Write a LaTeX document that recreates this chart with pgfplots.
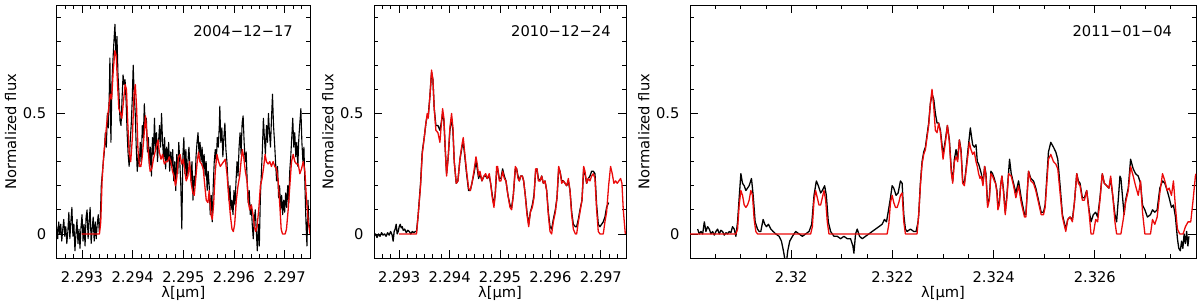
\documentclass[border=0pt]{standalone}
\usepackage{fontspec}
\setmainfont{DejaVu Sans}
\usepackage{pgfplots}
\pgfplotsset{compat=1.18}
\definecolor{mred}{RGB}{235,10,10}
\newcommand{\lf}{\fontsize{14.7}{17}\selectfont}
\pgfplotsset{
  spec/.style={
    scale only axis, height=253pt,
    ymin=-0.1, ymax=0.95,
    ytick={0,0.5}, yticklabels={0,0.5},
    minor ytick={0.1,0.2,0.3,0.4,0.6,0.7,0.8,0.9},
    tick align=inside, major tick length=8pt, minor tick length=4pt,
    every tick/.style={black, line width=0.7pt},
    axis line style={line width=0.8pt},
    tick label style={font=\lf},
    xticklabel style={anchor=base, yshift=-24pt},
    yticklabel style={anchor=east, xshift=-7pt},
    ylabel={Normalized flux},
    every axis y label/.style={at={(axis description cs:0,0.5)}, xshift=-46pt, rotate=90, anchor=center, font=\lf},
    xlabel={λ[μm]},
    every axis x label/.style={at={(axis description cs:0.5,0)}, anchor=base, yshift=-39pt, font=\lf},
    clip=true,
  },
  sixth/.style={minor xtick={2.292667,2.292833,2.293167,2.293333,2.293500,2.293667,2.293833,2.294167,2.294333,2.294500,2.294667,2.294833,2.295167,2.295333,2.295500,2.295667,2.295833,2.296167,2.296333,2.296500,2.296667,2.296833,2.297167,2.297333}},
  obs/.style={black, line width=1.3pt, line join=round},
  mod/.style={mred, line width=1.3pt, line join=round},
}
\begin{document}
\begin{tikzpicture}
\useasboundingbox (0,0) rectangle (1200pt,303pt);
% ---------------- Panel 1 ----------------
\begin{axis}[spec, sixth, at={(56.7pt,45pt)}, anchor=south west, width=253.3pt,
  xmin=2.2925, xmax=2.2975,
  xtick={2.293,2.294,2.295,2.296,2.297}, xticklabels={2.293,2.294,2.295,2.296,2.297}]
\addplot[obs, line width=1.1pt] coordinates {
(2.29250,0.03)(2.29252,-0.02)(2.29254,0.05)(2.29256,0.00)(2.29258,0.04)(2.29260,-0.03)(2.29262,0.02)(2.29264,0.06)(2.29266,-0.01)(2.29268,0.03)
(2.29270,-0.04)(2.29272,0.01)(2.29274,0.09)(2.29276,-0.02)(2.29278,0.05)(2.29280,0.11)(2.29282,-0.01)(2.29284,0.04)(2.29286,-0.07)(2.29288,0.00)
(2.29290,0.06)(2.29292,-0.04)(2.29294,0.02)(2.29296,-0.06)(2.29298,0.03)(2.29300,0.08)(2.29302,-0.03)(2.29304,0.04)(2.29306,-0.05)(2.29308,0.07)
(2.29310,0.10)(2.29312,-0.02)(2.29314,0.05)(2.29316,0.11)(2.29318,-0.04)(2.29320,0.02)(2.29322,0.07)(2.29324,-0.03)(2.29326,0.05)(2.29328,-0.02)
(2.29330,0.04)(2.29332,0.08)(2.29334,0.01)(2.29336,0.06)(2.29338,0.20)(2.29340,0.25)(2.29342,0.30)(2.29344,0.34)(2.29346,0.42)(2.29348,0.36)
(2.29350,0.50)(2.29352,0.44)(2.29354,0.60)(2.29355,0.73)(2.29357,0.38)(2.29359,0.62)(2.29361,0.72)(2.29363,0.80)(2.29365,0.87)(2.29367,0.74)
(2.29369,0.82)(2.29371,0.66)(2.29373,0.58)(2.29375,0.47)(2.29377,0.45)(2.29379,0.56)(2.29381,0.66)(2.29383,0.62)(2.29385,0.64)(2.29387,0.55)
(2.29389,0.42)(2.29391,0.33)(2.29393,0.28)(2.29395,0.38)(2.29397,0.45)(2.29399,0.55)(2.29401,0.70)(2.29403,0.58)(2.29405,0.50)(2.29407,0.36)
(2.29409,0.26)(2.29411,0.33)(2.29413,0.28)(2.29415,0.38)(2.29417,0.30)(2.29419,0.45)(2.29421,0.40)(2.29423,0.54)(2.29425,0.44)(2.29427,0.48)
(2.29429,0.34)(2.29431,0.40)(2.29433,0.28)(2.29435,0.36)(2.29437,0.24)(2.29439,0.40)(2.29441,0.33)(2.29443,0.48)(2.29445,0.35)(2.29447,0.42)
(2.29449,0.30)(2.29451,0.38)(2.29453,0.45)(2.29455,0.36)(2.29457,0.50)(2.29459,0.38)(2.29461,0.31)(2.29463,0.40)(2.29465,0.27)(2.29467,0.36)
(2.29469,0.30)(2.29471,0.38)(2.29473,0.26)(2.29475,0.34)(2.29477,0.28)(2.29479,0.35)(2.29481,0.22)(2.29483,0.30)(2.29485,0.18)(2.29487,0.33)
(2.29489,0.25)(2.29491,0.38)(2.29493,0.30)(2.29495,0.20)(2.29497,0.02)(2.29499,0.32)(2.29501,0.40)(2.29503,0.25)(2.29505,0.35)(2.29507,0.23)
(2.29509,0.30)(2.29511,0.36)(2.29513,0.28)(2.29515,0.22)(2.29517,0.30)(2.29519,0.14)(2.29521,0.24)(2.29523,0.20)(2.29525,0.32)(2.29527,0.38)
(2.29529,0.42)(2.29531,0.33)(2.29533,0.38)(2.29535,0.30)(2.29537,0.36)(2.29539,0.27)(2.29541,0.33)(2.29543,0.24)(2.29545,0.30)(2.29547,0.18)
(2.29549,0.26)(2.29551,0.20)(2.29553,0.08)(2.29555,0.16)(2.29557,0.05)(2.29559,0.20)(2.29561,0.30)(2.29563,0.35)(2.29565,0.30)(2.29567,0.40)
(2.29569,0.36)(2.29571,0.45)(2.29572,0.53)(2.29574,0.38)(2.29576,0.44)(2.29578,0.32)(2.29580,0.40)(2.29582,0.46)(2.29584,0.35)(2.29586,0.30)
(2.29588,0.22)(2.29590,0.14)(2.29592,0.20)(2.29594,0.10)(2.29596,0.14)(2.29598,0.08)(2.29600,0.18)(2.29602,0.12)(2.29604,0.22)(2.29606,0.30)
(2.29608,0.24)(2.29610,0.36)(2.29612,0.42)(2.29614,0.33)(2.29616,0.46)(2.29618,0.49)(2.29620,0.38)(2.29622,0.30)(2.29624,0.34)(2.29626,0.22)
(2.29628,0.13)(2.29630,0.18)(2.29632,0.08)(2.29634,0.12)(2.29636,0.04)(2.29638,-0.02)(2.29640,0.06)(2.29642,0.10)(2.29644,0.01)(2.29646,-0.07)
(2.29648,0.04)(2.29650,-0.05)(2.29652,0.15)(2.29654,0.25)(2.29656,0.35)(2.29658,0.48)(2.29660,0.40)(2.29662,0.33)(2.29664,0.45)(2.29666,0.38)
(2.29668,0.50)(2.29670,0.42)(2.29672,0.36)(2.29674,0.48)(2.29676,0.58)(2.29678,0.45)(2.29680,0.38)(2.29682,0.30)(2.29684,0.22)(2.29686,0.28)
(2.29688,0.15)(2.29690,0.20)(2.29692,0.10)(2.29694,0.16)(2.29696,0.08)(2.29698,0.14)(2.29700,0.09)(2.29702,0.17)(2.29704,0.11)(2.29706,0.20)
(2.29708,0.13)(2.29710,0.26)(2.29712,0.32)(2.29714,0.40)(2.29716,0.48)(2.29718,0.36)(2.29720,0.42)(2.29722,0.32)(2.29724,0.38)(2.29726,0.28)
(2.29728,0.40)(2.29730,0.46)(2.29732,0.52)(2.29734,0.38)(2.29736,0.30)(2.29738,0.36)(2.29740,0.20)(2.29742,0.05)(2.29744,-0.05)(2.29746,0.14)
(2.29748,0.04)(2.29750,0.02)
};
\addplot[mod] coordinates {
(2.29299,0)(2.293344,0)(2.293370,0.05)(2.293396,0.22)(2.293429,0.33)(2.293461,0.40)(2.293494,0.47)(2.293526,0.52)(2.293558,0.58)(2.293584,0.56)
(2.293617,0.68)(2.293649,0.76)(2.293675,0.74)(2.293701,0.62)(2.293727,0.52)(2.293760,0.50)(2.293786,0.48)(2.293818,0.55)(2.293851,0.62)(2.293877,0.60)
(2.293903,0.46)(2.293929,0.34)(2.293961,0.30)(2.293994,0.40)(2.294026,0.58)(2.294052,0.62)(2.294078,0.52)(2.294104,0.35)(2.294136,0.28)(2.294162,0.28)
(2.294188,0.32)(2.294221,0.40)(2.294253,0.49)(2.294279,0.42)(2.294312,0.33)(2.294344,0.26)(2.294377,0.27)(2.294409,0.31)(2.294442,0.34)(2.294474,0.37)
(2.294500,0.39)(2.294526,0.34)(2.294559,0.31)(2.294591,0.33)(2.294624,0.29)(2.294656,0.30)(2.294688,0.30)(2.294721,0.32)(2.294753,0.30)(2.294786,0.26)
(2.294818,0.24)(2.294844,0.20)(2.294870,0.23)(2.294903,0.32)(2.294935,0.33)(2.294968,0.29)(2.295000,0.31)(2.295023,0.27)(2.295056,0.22)(2.295089,0.24)
(2.295122,0.30)(2.295155,0.21)(2.295188,0.17)(2.295215,0.16)(2.295241,0.22)(2.295274,0.30)(2.295300,0.34)(2.295327,0.30)(2.295360,0.29)(2.295393,0.27)
(2.295419,0.21)(2.295452,0.14)(2.295485,0.13)(2.295512,0.18)(2.295545,0.08)(2.295571,0.06)(2.295597,0.12)(2.295630,0.26)(2.295663,0.33)(2.295696,0.30)
(2.295729,0.28)(2.295762,0.29)(2.295795,0.30)(2.295828,0.31)(2.295861,0.25)(2.295894,0.16)(2.295927,0.08)(2.295960,0.02)(2.295987,0.01)(2.296013,0.04)
(2.296046,0.14)(2.296079,0.20)(2.296112,0.24)(2.296139,0.30)(2.296165,0.35)(2.296191,0.32)(2.296224,0.26)(2.296257,0.22)(2.296284,0.13)(2.296310,0.10)
(2.296343,0.12)(2.296376,0.08)(2.296403,0.03)(2.296429,0.01)(2.296455,0.03)(2.296488,0.10)(2.296521,0.20)(2.296554,0.23)(2.296587,0.28)(2.296614,0.33)
(2.296640,0.30)(2.296673,0.29)(2.296706,0.30)(2.296739,0.28)(2.296772,0.30)(2.296805,0.28)(2.296838,0.27)(2.296871,0.22)(2.296904,0.12)(2.296931,0.02)
(2.296957,0.00)(2.297010,0.00)(2.297036,0.02)(2.297069,0.10)(2.297102,0.20)(2.297135,0.30)(2.297168,0.33)(2.297201,0.30)(2.297234,0.29)(2.297267,0.29)
(2.297300,0.25)(2.297333,0.27)(2.297366,0.30)(2.297399,0.26)(2.297432,0.14)(2.297465,0.05)(2.297500,0.00)
};
\node[anchor=north east, inner sep=0pt, font=\lf] at (axis description cs:0.933,0.921) {2004−12−17};
\end{axis}
% ---------------- Panel 2 ----------------
\begin{axis}[spec, sixth, at={(374pt,45pt)}, anchor=south west, width=252pt,
  xmin=2.2925, xmax=2.2975,
  xtick={2.293,2.294,2.295,2.296,2.297}, xticklabels={2.293,2.294,2.295,2.296,2.297}]
\addplot[obs] coordinates {
(2.29250,-0.01)(2.29253,0.0)(2.29256,-0.015)(2.29259,0.0)(2.29262,-0.01)(2.29265,0.005)(2.29268,-0.005)(2.29271,0.0)(2.29274,-0.01)(2.29277,0.005)
(2.29280,-0.005)(2.29283,0.01)(2.29286,-0.005)(2.29288,-0.03)(2.29290,0.01)(2.29292,0.02)(2.29294,0.04)(2.29296,0.0)(2.29298,0.01)(2.29300,0.03)
(2.29302,0.04)(2.29304,0.025)(2.29306,0.03)(2.29308,0.015)(2.29311,0.02)(2.29314,0.005)(2.29317,0.015)(2.29320,0.01)(2.29323,0.0)(2.29326,0.01)
(2.29329,0.005)(2.29332,0.01)(2.293344,0.01)(2.293377,0.08)(2.293424,0.21)(2.293457,0.34)(2.293497,0.40)(2.293530,0.46)(2.293556,0.49)(2.293576,0.49)
(2.293609,0.57)(2.293642,0.67)(2.293669,0.64)(2.293695,0.52)(2.293728,0.45)(2.293768,0.45)(2.293808,0.43)(2.293834,0.46)(2.293861,0.50)(2.293887,0.47)
(2.293914,0.35)(2.293940,0.25)(2.293973,0.32)(2.294006,0.43)(2.294039,0.48)(2.294066,0.43)(2.294092,0.30)(2.294132,0.21)(2.294165,0.22)(2.294205,0.31)
(2.294245,0.36)(2.294271,0.38)(2.294298,0.33)(2.294337,0.25)(2.294377,0.18)(2.294410,0.18)(2.294443,0.21)(2.294483,0.25)(2.294523,0.30)(2.294549,0.27)
(2.294576,0.23)(2.294602,0.25)(2.294642,0.22)(2.294681,0.24)(2.294715,0.24)(2.294748,0.23)(2.294787,0.24)(2.294814,0.21)(2.294847,0.16)(2.294880,0.12)
(2.294907,0.17)(2.294933,0.26)(2.294953,0.27)(2.294986,0.23)(2.295019,0.23)(2.295052,0.27)(2.295085,0.24)(2.295118,0.22)(2.295158,0.16)(2.295198,0.12)
(2.295231,0.11)(2.295264,0.16)(2.295304,0.27)(2.295330,0.27)(2.295357,0.24)(2.295383,0.22)(2.295410,0.24)(2.295443,0.24)(2.295469,0.22)(2.295502,0.16)
(2.295535,0.09)(2.295569,0.04)(2.295602,0.09)(2.295641,0.12)(2.295674,0.16)(2.295707,0.26)(2.295734,0.27)(2.295761,0.23)(2.295794,0.22)(2.295827,0.24)
(2.295860,0.21)(2.295893,0.22)(2.295926,0.18)(2.295959,0.09)(2.295992,0.03)(2.296025,0.02)(2.296058,0.06)(2.296098,0.10)(2.296131,0.15)(2.296164,0.27)
(2.296191,0.26)(2.296224,0.22)(2.296257,0.22)(2.296290,0.21)(2.296323,0.20)(2.296356,0.22)(2.296389,0.18)(2.296422,0.09)(2.296455,0.04)(2.296495,0.03)
(2.296521,0.03)(2.296554,0.06)(2.296587,0.10)(2.296627,0.14)(2.296660,0.27)(2.296686,0.25)(2.296719,0.21)(2.296752,0.23)(2.296785,0.24)(2.296818,0.26)
(2.296851,0.26)(2.296884,0.25)(2.296917,0.12)(2.296950,0.04)(2.296983,0.03)(2.297049,0.05)(2.297082,0.07)(2.297115,0.11)(2.297155,0.13)
};
\addplot[mod] coordinates {
(2.29300,0)(2.293331,0)(2.293344,0)(2.293377,0.08)(2.293424,0.20)(2.293457,0.33)(2.293497,0.40)(2.293530,0.46)(2.293556,0.50)(2.293576,0.48)
(2.293609,0.57)(2.293642,0.68)(2.293669,0.64)(2.293695,0.52)(2.293728,0.43)(2.293768,0.42)(2.293808,0.38)(2.293834,0.45)(2.293861,0.52)(2.293887,0.48)
(2.293914,0.35)(2.293940,0.24)(2.293973,0.32)(2.294006,0.44)(2.294039,0.50)(2.294066,0.44)(2.294092,0.30)(2.294132,0.21)(2.294165,0.22)(2.294205,0.31)
(2.294245,0.37)(2.294271,0.40)(2.294298,0.34)(2.294337,0.26)(2.294377,0.19)(2.294410,0.18)(2.294443,0.21)(2.294483,0.26)(2.294523,0.32)(2.294549,0.29)
(2.294576,0.24)(2.294602,0.26)(2.294642,0.22)(2.294681,0.24)(2.294715,0.25)(2.294748,0.23)(2.294787,0.25)(2.294814,0.21)(2.294847,0.15)(2.294880,0.11)
(2.294907,0.17)(2.294933,0.28)(2.294953,0.28)(2.294986,0.22)(2.295019,0.22)(2.295052,0.26)(2.295085,0.23)(2.295118,0.22)(2.295158,0.16)(2.295198,0.11)
(2.295231,0.10)(2.295264,0.16)(2.295304,0.28)(2.295330,0.27)(2.295357,0.23)(2.295383,0.22)(2.295410,0.24)(2.295443,0.24)(2.295469,0.22)(2.295502,0.16)
(2.295535,0.08)(2.295569,0.03)(2.295602,0.09)(2.295641,0.11)(2.295674,0.15)(2.295707,0.27)(2.295734,0.27)(2.295761,0.22)(2.295794,0.22)(2.295827,0.24)
(2.295860,0.21)(2.295893,0.22)(2.295926,0.18)(2.295959,0.08)(2.295992,0.01)(2.296025,0.00)(2.296058,0.05)(2.296098,0.09)(2.296131,0.15)(2.296164,0.28)
(2.296191,0.26)(2.296224,0.21)(2.296257,0.22)(2.296290,0.21)(2.296323,0.20)(2.296356,0.23)(2.296389,0.18)(2.296422,0.08)(2.296455,0.02)(2.296495,0.00)
(2.296521,0.00)(2.296554,0.05)(2.296587,0.09)(2.296627,0.14)(2.296660,0.28)(2.296686,0.26)(2.296719,0.21)(2.296752,0.23)(2.296785,0.22)(2.296818,0.24)
(2.296851,0.25)(2.296884,0.23)(2.296917,0.10)(2.296950,0.01)(2.296983,0.00)(2.297049,0.00)(2.297082,0.05)(2.297115,0.09)(2.297155,0.20)(2.297194,0.28)
(2.297227,0.25)(2.297260,0.21)(2.297293,0.22)(2.297326,0.21)(2.297359,0.22)(2.297393,0.23)(2.297419,0.21)(2.297446,0.10)(2.297486,0.00)
};
\node[anchor=north east, inner sep=0pt, font=\lf] at (axis description cs:0.94,0.921) {2010−12−24};
\end{axis}
% ---------------- Panel 3 ----------------
\begin{axis}[spec, at={(690pt,45pt)}, anchor=south west, width=506pt,
  xmin=2.318, xmax=2.328,
  xtick={2.32,2.322,2.324,2.326}, xticklabels={2.32,2.322,2.324,2.326},
  minor xtick={2.3185,2.319,2.3195,2.3205,2.321,2.3215,2.3225,2.323,2.3235,2.3245,2.325,2.3255,2.3265,2.327,2.3275}]
\addplot[obs] coordinates {
(2.318151,0.02)(2.318184,0.0)(2.318217,0.01)(2.318250,0.0)(2.318283,0.05)(2.318315,0.01)(2.318348,0.03)(2.318381,0.02)(2.318414,0.0)(2.318447,0.01)
(2.318480,-0.005)(2.318512,0.01)(2.318545,0.02)(2.318578,0.0)(2.318611,0.015)(2.318644,0.01)(2.318677,-0.005)(2.318710,0.005)(2.318742,0.0)(2.318775,0.01)
(2.318808,0.005)(2.318841,0.03)(2.318874,0.02)(2.318907,-0.01)(2.318940,0.05)(2.318972,0.15)(2.319005,0.25)(2.319038,0.21)(2.319071,0.20)(2.319104,0.18)
(2.319137,0.19)(2.319169,0.20)(2.319215,0.23)(2.319248,0.16)(2.319288,0.05)(2.319334,0.02)(2.319367,0.01)(2.319399,0.01)(2.319445,0.06)(2.319478,0.04)
(2.319511,0.03)(2.319551,0.04)(2.319597,0.02)(2.319643,0.01)(2.319695,0.0)(2.319761,-0.01)(2.319807,-0.03)(2.319846,-0.07)(2.319879,-0.11)(2.319905,-0.12)
(2.319932,-0.07)(2.319971,-0.03)(2.320024,-0.01)(2.320089,0.01)(2.320155,0.0)(2.320221,-0.01)(2.320286,0.0)(2.320352,0.01)(2.320405,0.04)(2.320451,0.16)
(2.320497,0.22)(2.320536,0.20)(2.320582,0.17)(2.320615,0.18)(2.320661,0.20)(2.320694,0.16)(2.320733,0.05)(2.320779,0.01)(2.320845,-0.01)(2.320911,-0.01)
(2.320976,-0.02)(2.321042,-0.01)(2.321108,-0.02)(2.321173,-0.02)(2.321219,-0.05)(2.321239,-0.08)(2.321272,0.0)(2.321305,0.02)(2.321351,-0.01)(2.321403,-0.02)
(2.321469,-0.01)(2.321535,0.0)(2.321600,0.01)(2.321666,0.02)(2.321732,0.03)(2.321797,0.04)(2.321843,0.06)(2.321883,0.05)(2.321916,0.09)(2.321962,0.15)
(2.321995,0.20)(2.322027,0.19)(2.322073,0.16)(2.322113,0.17)(2.322159,0.22)(2.322192,0.21)(2.322225,0.08)(2.322257,0.02)(2.322290,0.01)(2.322356,0.02)
(2.322422,0.01)(2.322468,0.01)(2.322507,0.05)(2.322520,0.08)(2.322553,0.21)(2.322586,0.30)(2.322619,0.34)(2.322652,0.36)(2.322684,0.41)(2.322717,0.46)
(2.322750,0.54)(2.322783,0.58)(2.322816,0.56)(2.322849,0.50)(2.322882,0.46)(2.322914,0.46)(2.322949,0.43)(2.323001,0.33)(2.323047,0.39)(2.323087,0.45)
(2.323126,0.39)(2.323166,0.26)(2.323192,0.22)(2.323225,0.31)(2.323258,0.35)(2.323290,0.31)(2.323323,0.39)(2.323356,0.35)(2.323389,0.22)(2.323422,0.21)
(2.323455,0.27)(2.323494,0.35)(2.323540,0.44)(2.323586,0.37)(2.323619,0.36)(2.323652,0.37)(2.323678,0.30)(2.323704,0.29)(2.323731,0.27)(2.323757,0.25)
(2.323790,0.21)(2.323823,0.28)(2.323849,0.25)(2.323882,0.12)(2.323915,0.15)(2.323947,0.26)(2.323980,0.25)(2.324013,0.23)(2.324039,0.21)(2.324066,0.18)
(2.324085,0.11)(2.324112,0.13)(2.324138,0.20)(2.324164,0.24)(2.324197,0.18)(2.324230,0.09)(2.324263,0.16)(2.324315,0.31)(2.324348,0.25)(2.324394,0.21)
(2.324440,0.17)(2.324493,0.22)(2.324545,0.15)(2.324611,0.08)(2.324637,0.08)(2.324690,0.26)(2.324736,0.23)(2.324788,0.22)(2.324834,0.19)(2.324887,0.14)
(2.324940,0.09)(2.324986,0.09)(2.325018,0.12)(2.325084,0.34)(2.325130,0.38)(2.325183,0.36)(2.325229,0.34)(2.325268,0.31)(2.325314,0.20)(2.325360,0.08)
(2.325426,0.02)(2.325465,0.06)(2.325511,0.07)(2.325557,0.06)(2.325597,0.13)(2.325643,0.25)(2.325675,0.22)(2.325708,0.21)(2.325754,0.15)(2.325794,0.15)
(2.325840,0.18)(2.325886,0.10)(2.325925,0.05)(2.325971,0.08)(2.326017,0.09)(2.326056,0.07)(2.326102,0.15)(2.326148,0.25)(2.326188,0.21)(2.326234,0.20)
(2.326280,0.19)(2.326313,0.23)(2.326359,0.15)(2.326398,0.08)(2.326431,0.05)(2.326470,0.16)(2.326497,0.24)(2.326516,0.23)(2.326562,0.12)(2.326580,0.08)
(2.326608,0.14)(2.326661,0.19)(2.326707,0.31)(2.326759,0.27)(2.326805,0.25)(2.326858,0.24)(2.326904,0.21)(2.326943,0.12)(2.326989,0.10)(2.327040,0.07)
(2.327101,0.08)(2.327140,0.10)(2.327186,0.09)(2.327232,0.10)(2.327285,0.19)(2.327338,0.22)(2.327384,0.21)(2.327430,0.18)(2.327469,0.15)(2.327515,0.11)
(2.327554,0.12)(2.327594,0.07)(2.327633,-0.02)(2.327660,-0.06)(2.327690,-0.07)(2.327715,-0.03)(2.327740,-0.06)(2.327765,0.0)(2.327790,-0.04)(2.327815,0.01)
(2.327840,-0.05)(2.327860,-0.01)
};
\addplot[mod] coordinates {
(2.318,0)(2.318907,0)(2.318940,0.02)(2.318972,0.12)(2.319005,0.18)(2.319038,0.16)(2.319071,0.12)(2.319104,0.11)(2.319137,0.12)(2.319169,0.14)
(2.319202,0.18)(2.319235,0.16)(2.319268,0.06)(2.319301,0.01)(2.319334,0)(2.320385,0)(2.320418,0.03)(2.320451,0.14)(2.320483,0.18)(2.320516,0.15)
(2.320549,0.12)(2.320582,0.12)(2.320615,0.15)(2.320648,0.18)(2.320681,0.14)(2.320713,0.05)(2.320746,0)(2.321896,0)(2.321929,0.04)(2.321962,0.13)
(2.321995,0.16)(2.322027,0.13)(2.322060,0.11)(2.322093,0.11)(2.322126,0.13)(2.322159,0.16)(2.322192,0.17)(2.322225,0.05)(2.322257,0)(2.322487,0)
(2.322520,0.08)(2.322553,0.20)(2.322586,0.29)(2.322619,0.33)(2.322652,0.35)(2.322684,0.40)(2.322717,0.45)(2.322750,0.54)(2.322783,0.60)(2.322816,0.53)
(2.322849,0.43)(2.322882,0.42)(2.322914,0.46)(2.322949,0.42)(2.323001,0.31)(2.323047,0.38)(2.323087,0.45)(2.323126,0.38)(2.323166,0.25)(2.323192,0.21)
(2.323225,0.30)(2.323258,0.32)(2.323290,0.30)(2.323323,0.39)(2.323356,0.34)(2.323389,0.21)(2.323422,0.20)(2.323455,0.26)(2.323494,0.33)(2.323520,0.38)
(2.323553,0.35)(2.323586,0.33)(2.323619,0.34)(2.323652,0.30)(2.323678,0.28)(2.323704,0.25)(2.323731,0.23)(2.323757,0.24)(2.323790,0.20)(2.323823,0.28)
(2.323849,0.24)(2.323882,0.11)(2.323915,0.14)(2.323947,0.25)(2.323980,0.24)(2.324013,0.22)(2.324039,0.21)(2.324066,0.17)(2.324085,0.10)(2.324112,0.12)
(2.324138,0.20)(2.324164,0.24)(2.324197,0.17)(2.324230,0.08)(2.324263,0.15)(2.324296,0.25)(2.324348,0.24)(2.324394,0.20)(2.324440,0.15)(2.324493,0.20)
(2.324545,0.13)(2.324611,0.07)(2.324637,0.07)(2.324690,0.26)(2.324736,0.22)(2.324788,0.21)(2.324834,0.18)(2.324887,0.13)(2.324940,0.08)(2.324986,0.08)
(2.325018,0.11)(2.325084,0.31)(2.325130,0.33)(2.325183,0.30)(2.325229,0.29)(2.325268,0.27)(2.325314,0.17)(2.325360,0.07)(2.325426,0.01)(2.325465,0.06)
(2.325511,0.07)(2.325557,0.05)(2.325597,0.13)(2.325643,0.25)(2.325675,0.21)(2.325708,0.20)(2.325754,0.14)(2.325794,0.14)(2.325840,0.18)(2.325886,0.09)
(2.325925,0)(2.325971,0)(2.326017,0.06)(2.326056,0.05)(2.326102,0.14)(2.326148,0.25)(2.326188,0.21)(2.326234,0.20)(2.326280,0.19)(2.326313,0.24)
(2.326359,0.15)(2.326398,0.05)(2.326431,0)(2.326516,0)(2.326562,0.06)(2.326608,0.13)(2.326661,0.18)(2.326707,0.28)(2.326759,0.24)(2.326805,0.20)
(2.326858,0.16)(2.326904,0.22)(2.326943,0.09)(2.326989,0)(2.327101,0)(2.327140,0.06)(2.327186,0.04)(2.327232,0.07)(2.327285,0.17)(2.327338,0.25)
(2.327384,0.22)(2.327430,0.18)(2.327469,0.19)(2.327515,0.16)(2.327554,0.22)(2.327594,0.11)(2.327633,0.02)(2.327679,0)(2.327745,0)(2.327791,0.03)
(2.327843,0.05)(2.327896,0.05)(2.327942,0.14)(2.327988,0.24)(2.328,0.25)
};
\node[anchor=north east, inner sep=0pt, font=\lf] at (axis description cs:0.953,0.921) {2011−01−04};
\end{axis}
\end{tikzpicture}
\end{document}
